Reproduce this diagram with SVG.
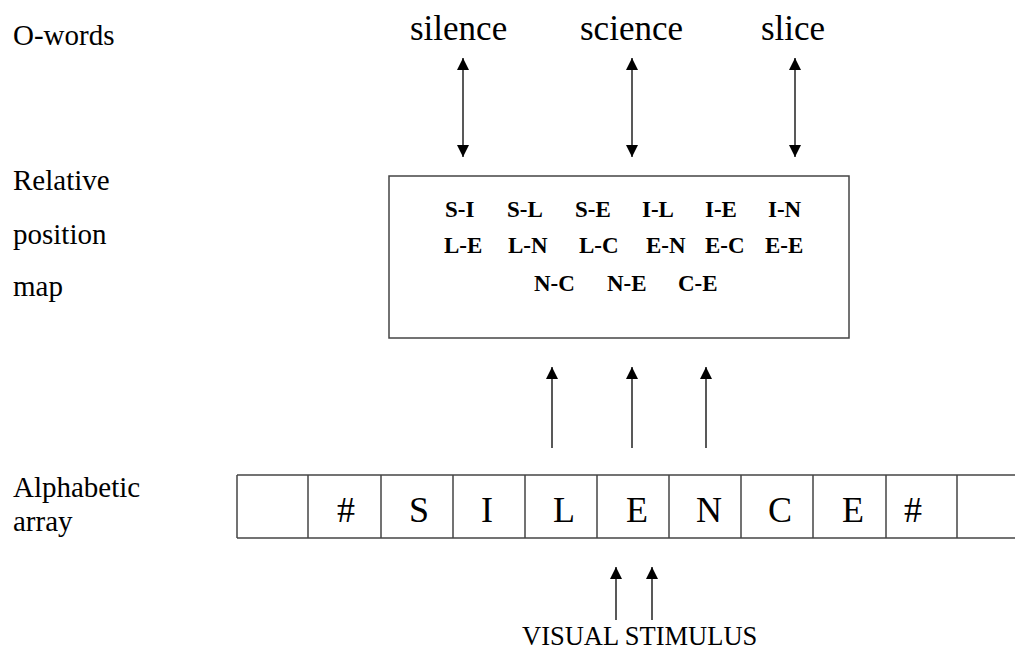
<svg xmlns="http://www.w3.org/2000/svg" width="1015" height="651" viewBox="0 0 1015 651">
<style>
  text { font-family: "Liberation Serif", "Times New Roman", Times, serif; font-weight: normal; fill: #000; }
  .lbl { font-size: 29px; }
  .word { font-size: 35px; }
  .pair { font-size: 23px; font-weight: bold; }
  .cell { font-size: 36px; text-anchor: middle; }
  .stim { font-size: 26.5px; }
  .frame { fill: #fff; stroke: #444; stroke-width: 1.5; }
  .conn { stroke: #222; stroke-width: 1.5; fill: none; }
</style>
<defs>
  <marker id="ah" viewBox="0 0 12 12" refX="12" refY="6" markerWidth="12" markerHeight="12" markerUnits="userSpaceOnUse" orient="auto-start-reverse">
    <path d="M0,0 L12,6 L0,12 z" fill="#000"/>
  </marker>
</defs>
<rect width="1015" height="651" fill="#fff"/>

<g id="labels">
  <text class="lbl" x="13" y="45">O-words</text>
  <text class="lbl" x="13" y="190">Relative</text>
  <text class="lbl" x="13" y="244">position</text>
  <text class="lbl" x="13" y="296">map</text>
  <text class="lbl" x="13" y="497">Alphabetic</text>
  <text class="lbl" x="13" y="531">array</text>
</g>

<g id="owords">
  <text class="word" x="410" y="40">silence</text>
  <text class="word" x="580" y="40">science</text>
  <text class="word" x="761" y="40">slice</text>
</g>

<g id="relative-position-map">
  <rect class="frame" x="389" y="176" width="460" height="162"/>
  <text class="pair" x="445" y="217">S-I</text>
  <text class="pair" x="507" y="217">S-L</text>
  <text class="pair" x="575" y="217">S-E</text>
  <text class="pair" x="642" y="217">I-L</text>
  <text class="pair" x="705" y="217">I-E</text>
  <text class="pair" x="768" y="217">I-N</text>
  <text class="pair" x="444" y="253">L-E</text>
  <text class="pair" x="508" y="253">L-N</text>
  <text class="pair" x="579" y="253">L-C</text>
  <text class="pair" x="646" y="253">E-N</text>
  <text class="pair" x="705" y="253">E-C</text>
  <text class="pair" x="765" y="253">E-E</text>
  <text class="pair" x="534" y="291">N-C</text>
  <text class="pair" x="607" y="291">N-E</text>
  <text class="pair" x="678" y="291">C-E</text>
</g>

<g id="alphabetic-array">
  <line class="frame" x1="237" y1="475" x2="1015" y2="475"/>
  <line class="frame" x1="237" y1="538" x2="1015" y2="538"/>
  <line class="frame" x1="237" y1="475" x2="237" y2="538"/>
  <line class="frame" x1="308" y1="475" x2="308" y2="538"/>
  <line class="frame" x1="381" y1="475" x2="381" y2="538"/>
  <line class="frame" x1="453" y1="475" x2="453" y2="538"/>
  <line class="frame" x1="525" y1="475" x2="525" y2="538"/>
  <line class="frame" x1="597" y1="475" x2="597" y2="538"/>
  <line class="frame" x1="669" y1="475" x2="669" y2="538"/>
  <line class="frame" x1="741" y1="475" x2="741" y2="538"/>
  <line class="frame" x1="813" y1="475" x2="813" y2="538"/>
  <line class="frame" x1="886" y1="475" x2="886" y2="538"/>
  <line class="frame" x1="957" y1="475" x2="957" y2="538"/>
  <text class="cell" x="346" y="522">#</text>
  <text class="cell" x="419" y="522">S</text>
  <text class="cell" x="487" y="522">I</text>
  <text class="cell" x="564" y="522">L</text>
  <text class="cell" x="637" y="522">E</text>
  <text class="cell" x="709" y="522">N</text>
  <text class="cell" x="780" y="522">C</text>
  <text class="cell" x="853" y="522">E</text>
  <text class="cell" x="913" y="522">#</text>
</g>

<g id="visual-stimulus">
  <text class="stim" x="522" y="645">VISUAL STIMULUS</text>
</g>

<g id="connectors">
  <line class="conn" x1="463" y1="58" x2="463" y2="157" marker-start="url(#ah)" marker-end="url(#ah)"/>
  <line class="conn" x1="632" y1="58" x2="632" y2="157" marker-start="url(#ah)" marker-end="url(#ah)"/>
  <line class="conn" x1="795" y1="58" x2="795" y2="157" marker-start="url(#ah)" marker-end="url(#ah)"/>
  <line class="conn" x1="552" y1="448" x2="552" y2="367" marker-end="url(#ah)"/>
  <line class="conn" x1="632" y1="448" x2="632" y2="367" marker-end="url(#ah)"/>
  <line class="conn" x1="706" y1="448" x2="706" y2="367" marker-end="url(#ah)"/>
  <line class="conn" x1="616" y1="620" x2="616" y2="567" marker-end="url(#ah)"/>
  <line class="conn" x1="652" y1="620" x2="652" y2="567" marker-end="url(#ah)"/>
</g>
</svg>
